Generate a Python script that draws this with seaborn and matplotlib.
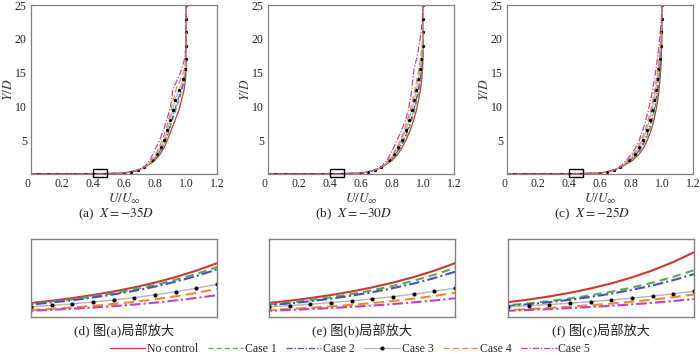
import numpy as np
import pandas as pd
import matplotlib
matplotlib.use("Agg")
import matplotlib.pyplot as plt
from matplotlib.patches import Rectangle
import seaborn as sns

sns.set_style("white")
plt.rcParams["font.family"] = ["Liberation Serif", "Noto Sans CJK SC"]
plt.rcParams["mathtext.fontset"] = "stix"

# ---------------- data ----------------
cases = ["No control", "Case 1", "Case 2", "Case 3", "Case 4", "Case 5"]
main_captions = [r"(a)  $X = -35D$", r"(b)  $X = -30D$", r"(c)  $X = -25D$"]
zoom_captions = ["(d) 图(a)局部放大", "(e) 图(b)局部放大", "(f) 图(c)局部放大"]
x_ticks = [0, 0.2, 0.4, 0.6, 0.8, 1.0, 1.2]
x_tick_labels = ["0", "0.2", "0.4", "0.6", "0.8", "1.0", "1.2"]
y_ticks = [5, 10, 15, 20, 25]

# wall region (shared by all cases): U/U_inf and Y/D
U_wall = [0.00, 0.02, 0.04, 0.06, 0.08, 0.10, 0.12, 0.14, 0.16, 0.18,
          0.20, 0.22, 0.24, 0.26, 0.28, 0.30, 0.32, 0.34, 0.36, 0.38]
Y_wall = [0.0, 0.0002, 0.0004, 0.0006, 0.0008, 0.0010, 0.0013, 0.0016, 0.0019, 0.0022,
          0.0025, 0.0029, 0.0033, 0.0037, 0.0041, 0.0045, 0.0050, 0.0055, 0.0060, 0.0065]

# near-wall region shown in the zoomed panels: U values and Y/D per case
U_zoom = [0.39, 0.40, 0.41, 0.42, 0.43, 0.44, 0.45, 0.46, 0.47, 0.48, 0.49, 0.50]
Yzoom_a = {
    "No control": [0.0155, 0.0180, 0.0209, 0.0243, 0.0282, 0.0327, 0.0380, 0.0441, 0.0512, 0.0594, 0.0690, 0.0801],
    "Case 1": [0.0147, 0.0170, 0.0197, 0.0228, 0.0264, 0.0306, 0.0355, 0.0411, 0.0477, 0.0552, 0.0640, 0.0742],
    "Case 2": [0.0138, 0.0160, 0.0186, 0.0215, 0.0250, 0.0290, 0.0336, 0.0390, 0.0453, 0.0525, 0.0610, 0.0708],
    "Case 3": [0.0114, 0.0130, 0.0148, 0.0169, 0.0192, 0.0219, 0.0249, 0.0284, 0.0324, 0.0369, 0.0420, 0.0478],
    "Case 4": [0.0077, 0.0090, 0.0105, 0.0122, 0.0143, 0.0167, 0.0194, 0.0227, 0.0265, 0.0309, 0.0360, 0.0420],
    "Case 5": [0.0070, 0.0080, 0.0092, 0.0106, 0.0121, 0.0139, 0.0160, 0.0184, 0.0212, 0.0244, 0.0280, 0.0322],
}
Yzoom_b = {
    "No control": [0.0155, 0.0180, 0.0209, 0.0243, 0.0282, 0.0327, 0.0380, 0.0441, 0.0512, 0.0594, 0.0690, 0.0801],
    "Case 1": [0.0137, 0.0160, 0.0186, 0.0217, 0.0253, 0.0294, 0.0343, 0.0399, 0.0465, 0.0541, 0.0630, 0.0734],
    "Case 2": [0.0129, 0.0150, 0.0174, 0.0203, 0.0235, 0.0274, 0.0318, 0.0370, 0.0429, 0.0499, 0.0580, 0.0674],
    "Case 3": [0.0116, 0.0130, 0.0146, 0.0164, 0.0184, 0.0207, 0.0232, 0.0261, 0.0293, 0.0329, 0.0370, 0.0416],
    "Case 4": [0.0078, 0.0090, 0.0103, 0.0118, 0.0136, 0.0156, 0.0179, 0.0205, 0.0235, 0.0270, 0.0310, 0.0356],
    "Case 5": [0.0071, 0.0080, 0.0090, 0.0102, 0.0115, 0.0130, 0.0147, 0.0166, 0.0188, 0.0212, 0.0240, 0.0271],
}
Yzoom_c = {
    "No control": [0.0161, 0.0190, 0.0224, 0.0264, 0.0311, 0.0366, 0.0431, 0.0508, 0.0598, 0.0705, 0.0830, 0.0978],
    "Case 1": [0.0129, 0.0150, 0.0175, 0.0204, 0.0238, 0.0278, 0.0324, 0.0378, 0.0441, 0.0514, 0.0600, 0.0700],
    "Case 2": [0.0120, 0.0140, 0.0163, 0.0190, 0.0221, 0.0257, 0.0299, 0.0348, 0.0405, 0.0472, 0.0550, 0.0640],
    "Case 3": [0.0117, 0.0130, 0.0144, 0.0160, 0.0177, 0.0197, 0.0218, 0.0242, 0.0268, 0.0298, 0.0330, 0.0366],
    "Case 4": [0.0079, 0.0090, 0.0102, 0.0117, 0.0133, 0.0151, 0.0172, 0.0196, 0.0223, 0.0254, 0.0290, 0.0330],
    "Case 5": [0.0071, 0.0080, 0.0090, 0.0101, 0.0114, 0.0128, 0.0144, 0.0162, 0.0182, 0.0205, 0.0230, 0.0259],
}

# outer region: Y/D grid and U/U_inf per case
Y_outer = [0.15, 0.3, 0.6, 1, 2, 3, 4, 5, 6.5, 8, 9.5, 11, 12.5, 14, 15.5, 17, 19, 21, 23, 25]
Uout_a = {
    "No control": [0.60, 0.645, 0.695, 0.735, 0.800, 0.835, 0.860, 0.880, 0.905, 0.930, 0.955, 0.972, 0.988, 0.997, 1.0, 1.0, 1.0, 1.0, 1.0, 1.0],
    "Case 1": [0.60, 0.643, 0.693, 0.733, 0.792, 0.826, 0.851, 0.871, 0.893, 0.913, 0.935, 0.955, 0.975, 0.992, 0.999, 1.0, 1.0, 1.0, 1.0, 1.0],
    "Case 2": [0.60, 0.642, 0.692, 0.732, 0.788, 0.822, 0.846, 0.866, 0.888, 0.908, 0.928, 0.948, 0.970, 0.989, 0.998, 1.0, 1.0, 1.0, 1.0, 1.0],
    "Case 3": [0.60, 0.642, 0.692, 0.732, 0.783, 0.815, 0.838, 0.858, 0.880, 0.898, 0.915, 0.930, 0.955, 0.982, 0.996, 1.0, 1.0, 1.0, 1.0, 1.0],
    "Case 4": [0.60, 0.641, 0.691, 0.731, 0.778, 0.806, 0.828, 0.848, 0.870, 0.888, 0.905, 0.918, 0.935, 0.965, 0.990, 0.999, 1.0, 1.0, 1.0, 1.0],
    "Case 5": [0.60, 0.640, 0.690, 0.730, 0.765, 0.788, 0.808, 0.830, 0.855, 0.875, 0.895, 0.908, 0.914, 0.945, 0.973, 0.990, 1.0, 1.0, 1.0, 1.0],
}
Uout_b = {
    "No control": [0.60, 0.645, 0.695, 0.735, 0.800, 0.840, 0.868, 0.890, 0.918, 0.940, 0.958, 0.972, 0.984, 0.992, 0.997, 1.0, 1.0, 1.0, 1.0, 1.0],
    "Case 1": [0.60, 0.643, 0.693, 0.733, 0.792, 0.830, 0.858, 0.880, 0.906, 0.928, 0.946, 0.962, 0.975, 0.986, 0.993, 0.998, 1.0, 1.0, 1.0, 1.0],
    "Case 2": [0.60, 0.642, 0.692, 0.732, 0.788, 0.825, 0.852, 0.874, 0.900, 0.922, 0.940, 0.956, 0.970, 0.982, 0.990, 0.996, 1.0, 1.0, 1.0, 1.0],
    "Case 3": [0.60, 0.642, 0.692, 0.732, 0.782, 0.815, 0.841, 0.862, 0.888, 0.910, 0.928, 0.944, 0.958, 0.970, 0.981, 0.990, 0.997, 1.0, 1.0, 1.0],
    "Case 4": [0.60, 0.641, 0.691, 0.731, 0.776, 0.808, 0.833, 0.853, 0.879, 0.900, 0.918, 0.934, 0.948, 0.961, 0.973, 0.984, 0.994, 0.999, 1.0, 1.0],
    "Case 5": [0.60, 0.640, 0.690, 0.730, 0.765, 0.792, 0.812, 0.832, 0.862, 0.888, 0.905, 0.918, 0.928, 0.934, 0.942, 0.958, 0.975, 0.988, 0.996, 1.0],
}
Uout_c = {
    "No control": [0.60, 0.645, 0.695, 0.735, 0.810, 0.855, 0.885, 0.905, 0.930, 0.948, 0.962, 0.973, 0.981, 0.987, 0.992, 0.995, 0.998, 1.0, 1.0, 1.0],
    "Case 1": [0.60, 0.643, 0.693, 0.733, 0.800, 0.843, 0.873, 0.894, 0.920, 0.939, 0.954, 0.966, 0.975, 0.982, 0.988, 0.992, 0.996, 0.999, 1.0, 1.0],
    "Case 2": [0.60, 0.642, 0.692, 0.732, 0.795, 0.837, 0.866, 0.888, 0.914, 0.933, 0.949, 0.961, 0.971, 0.979, 0.985, 0.990, 0.995, 0.998, 1.0, 1.0],
    "Case 3": [0.60, 0.642, 0.692, 0.732, 0.785, 0.825, 0.853, 0.875, 0.900, 0.920, 0.936, 0.949, 0.960, 0.969, 0.977, 0.984, 0.991, 0.996, 0.999, 1.0],
    "Case 4": [0.60, 0.641, 0.691, 0.731, 0.778, 0.817, 0.845, 0.866, 0.891, 0.911, 0.928, 0.942, 0.954, 0.964, 0.973, 0.981, 0.989, 0.995, 0.999, 1.0],
    "Case 5": [0.60, 0.640, 0.690, 0.730, 0.768, 0.805, 0.833, 0.853, 0.876, 0.896, 0.913, 0.927, 0.940, 0.951, 0.961, 0.970, 0.980, 0.989, 0.996, 1.0],
}

# ---------------- styles ----------------
styles = {
    "No control": dict(color="#c83a32", linestyle="-"),
    "Case 1": dict(color="#4fae48", linestyle=(0, (4, 2.5))),
    "Case 2": dict(color="#4b4fb8", linestyle=(0, (5, 1.5, 1, 1.5))),
    "Case 3": dict(color="#b5b5b5", linestyle="-", marker="o", markerfacecolor="black",
                   markeredgecolor="black"),
    "Case 4": dict(color="#f08a30", linestyle=(0, (5, 2.5))),
    "Case 5": dict(color="#c043b3", linestyle=(0, (5, 1.5, 1, 1.5))),
}

# build long table
rows = []
for panel, (yz, uo) in enumerate([(Yzoom_a, Uout_a), (Yzoom_b, Uout_b), (Yzoom_c, Uout_c)]):
    for c in cases:
        U = list(U_wall) + list(U_zoom) + list(uo[c])
        Y = list(Y_wall) + list(yz[c]) + list(Y_outer)
        for i, (u, y) in enumerate(zip(U, Y)):
            rows.append(dict(panel=panel, case=c, order=i, U=u, Y=y))
df = pd.DataFrame(rows)

# ---------------- figure ----------------
W, H = 700, 354
fig = plt.figure(figsize=(W / 100, H / 100), dpi=100)
spine_col = "#808080"

main_left = [31, 268, 507]
zoom_left = [31, 269, 508]
aw = 186


def fax(x, y_top, w, h):
    return fig.add_axes([x / W, 1 - (y_top + h) / H, w / W, h / H])


legend_handles = None
for p in range(3):
    ax = fax(main_left[p], 5, aw, 169)
    sub = df[df.panel == p]
    for c in cases:
        d = sub[sub.case == c].sort_values("order")
        kw = dict(styles[c])
        sns.lineplot(data=d, x="U", y="Y", sort=False, estimator=None, ax=ax,
                     lw=0.9, markersize=1.6, label=c, legend=False, **kw)
    ax.set_xlim(0, 1.2)
    ax.set_ylim(0, 25)
    ax.set_xticks(x_ticks)
    ax.set_xticklabels(x_tick_labels)
    ax.get_xticklabels()[0].set_horizontalalignment("right")
    ax.set_yticks(y_ticks)
    ax.tick_params(direction="in", length=3, width=0.6, color=spine_col,
                   labelsize=8.5, pad=3, colors="#222222")
    ax.tick_params(axis="both", color=spine_col)
    for s in ax.spines.values():
        s.set_color(spine_col)
        s.set_linewidth(0.9)
    ax.set_xlabel(r"$U/U_\infty$", fontsize=9.5, labelpad=1, color="#333333")
    ax.set_ylabel(r"$Y/D$", fontsize=9.5, color="#333333")
    ax.yaxis.set_label_coords(-16 / aw, 0.5)
    ax.add_patch(Rectangle((0.40, -0.45), 0.09, 1.15, fill=False, ec="black",
                           lw=1.0, clip_on=False, zorder=5))
    cx = (main_left[p] + aw / 2 - 8) / W
    fig.text(cx, 1 - 214 / H, main_captions[p], ha="center", va="center",
             fontsize=9.5, color="#222222")
    if p == 0:
        legend_handles = ax.get_legend_handles_labels()

    # zoomed panel
    az = fax(zoom_left[p], 239, aw, 78)
    for c in cases:
        d = sub[sub.case == c].sort_values("order")
        kw = dict(styles[c])
        sns.lineplot(data=d, x="U", y="Y", sort=False, estimator=None, ax=az,
                     lw=1.5 if c != "Case 3" else 1.0, markersize=2.2,
                     legend=False, **kw)
    az.set_xlim(0.40, 0.49)
    az.set_ylim(0, 0.1)
    az.set_xticks([])
    az.set_yticks([])
    az.set_xlabel("")
    az.set_ylabel("")
    for s in az.spines.values():
        s.set_color(spine_col)
        s.set_linewidth(1.0)
    fig.text((zoom_left[p] + aw / 2) / W, 1 - 331 / H, zoom_captions[p],
             ha="center", va="center", fontsize=9.5, color="#222222")

h, l = legend_handles
fig.legend(h, l, loc="center", bbox_to_anchor=(0.5, 1 - 349 / H), ncol=6,
           frameon=False, fontsize=8.5, handlelength=3.0, handletextpad=0.15,
           columnspacing=0.8, borderaxespad=0, borderpad=0, markerscale=1.4)

fig.savefig("out.png", dpi=100)
